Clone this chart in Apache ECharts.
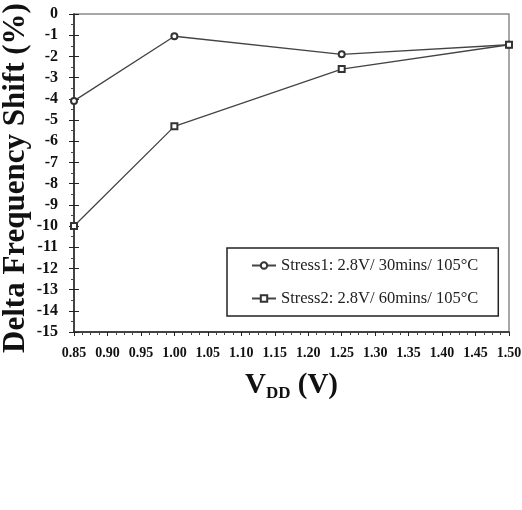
<!DOCTYPE html>
<html>
<head>
<meta charset="utf-8">
<script src="https://cdn.jsdelivr.net/npm/echarts@6/dist/echarts.min.js"></script>
<style>
  html, body { margin: 0; padding: 0; background: #fff; }
  #chart { width: 522px; height: 510px; }
</style>
</head>
<body>
<div id="chart"></div>
<script>
// V_DD (V) sample points
const vdd = [0.85, 1.00, 1.25, 1.50];
// delta frequency shift (%)
const stress1 = [-4.1, -1.05, -1.9, -1.45];
const stress2 = [-10.0, -5.3, -2.6, -1.45];
const seriesNames = [
  'Stress1: 2.8V/ 30mins/ 105°C',
  'Stress2: 2.8V/ 60mins/ 105°C'
];
const yTitle = 'Delta Frequency Shift (%)';

const serif = '"Liberation Serif", "DejaVu Serif", serif';
const chart = echarts.init(document.getElementById('chart'));

const pair = (xs, ys) => xs.map((x, i) => [x, ys[i]]);

const option = {
  backgroundColor: '#fff',
  animation: false,
  grid: {
    left: 74, right: 13, top: 14, bottom: 178,
    outerBoundsMode: 'none',
    containLabel: false,
    show: true,
    borderColor: '#8a8a8a',
    borderWidth: 1.5
  },
  legend: {
    left: 227, top: 248,
    orient: 'vertical',
    itemGap: 16,
    itemWidth: 24,
    itemHeight: 8,
    padding: [9, 20, 9, 24],
    borderColor: '#222',
    borderWidth: 1.5,
    textStyle: { fontFamily: serif, fontSize: 16.5, color: '#222' },
    data: seriesNames
  },
  // y axis title placed by hand so it sits left of the tick labels
  graphic: [{
    type: 'text',
    x: 16, y: 178,
    rotation: Math.PI / 2,
    style: {
      text: yTitle,
      fontFamily: serif, fontWeight: 'bold', fontSize: 31, fill: '#111',
      align: 'center', verticalAlign: 'middle'
    }
  }],
  xAxis: {
    type: 'value',
    min: 0.85, max: 1.5, interval: 0.05,
    axisLine: { onZero: false, lineStyle: { color: '#222', width: 1.5 } },
    axisTick: { inside: false, length: 4, lineStyle: { color: '#222' } },
    minorTick: { show: true, splitNumber: 4, length: 3, lineStyle: { color: '#444' } },
    splitLine: { show: false },
    axisLabel: {
      fontFamily: serif, fontWeight: 'bold', fontSize: 14, color: '#111', margin: 14,
      formatter: v => v.toFixed(2)
    },
    name: '{a|V}{b|DD}{a| (V)}',
    nameLocation: 'middle',
    nameGap: 37,
    nameTextStyle: {
      rich: {
        a: { fontFamily: serif, fontWeight: 'bold', fontSize: 29, color: '#111' },
        b: { fontFamily: serif, fontWeight: 'bold', fontSize: 17, color: '#111', padding: [16, 0, 0, 0] }
      }
    }
  },
  yAxis: [{
    type: 'value',
    min: -15, max: 0, interval: 1,
    axisLine: { onZero: false, lineStyle: { color: '#222', width: 1.5 } },
    axisTick: { inside: false, length: 5, lineStyle: { color: '#222' } },
    minorTick: { show: true, splitNumber: 2, length: 3, lineStyle: { color: '#444' } },
    splitLine: { show: false },
    axisLabel: { fontFamily: serif, fontWeight: 'bold', fontSize: 16, color: '#111', margin: 16 }
  }, {
    type: 'value',
    position: 'left',
    min: -15, max: 0, interval: 1,
    axisLine: { show: false },
    axisTick: { inside: true, length: 5, lineStyle: { color: '#222' } },
    axisLabel: { show: false },
    splitLine: { show: false }
  }],
  series: [{
    name: seriesNames[0],
    type: 'line',
    data: pair(vdd, stress1),
    symbol: 'emptyCircle',
    symbolSize: 6,
    lineStyle: { color: '#444', width: 1.3 },
    itemStyle: { color: '#333', borderWidth: 1.3 }
  }, {
    name: seriesNames[1],
    type: 'line',
    data: pair(vdd, stress2),
    symbol: 'emptyRect',
    symbolSize: 6,
    lineStyle: { color: '#444', width: 1.3 },
    itemStyle: { color: '#333', borderWidth: 1.3 }
  }]
};

chart.setOption(option);
</script>
</body>
</html>
